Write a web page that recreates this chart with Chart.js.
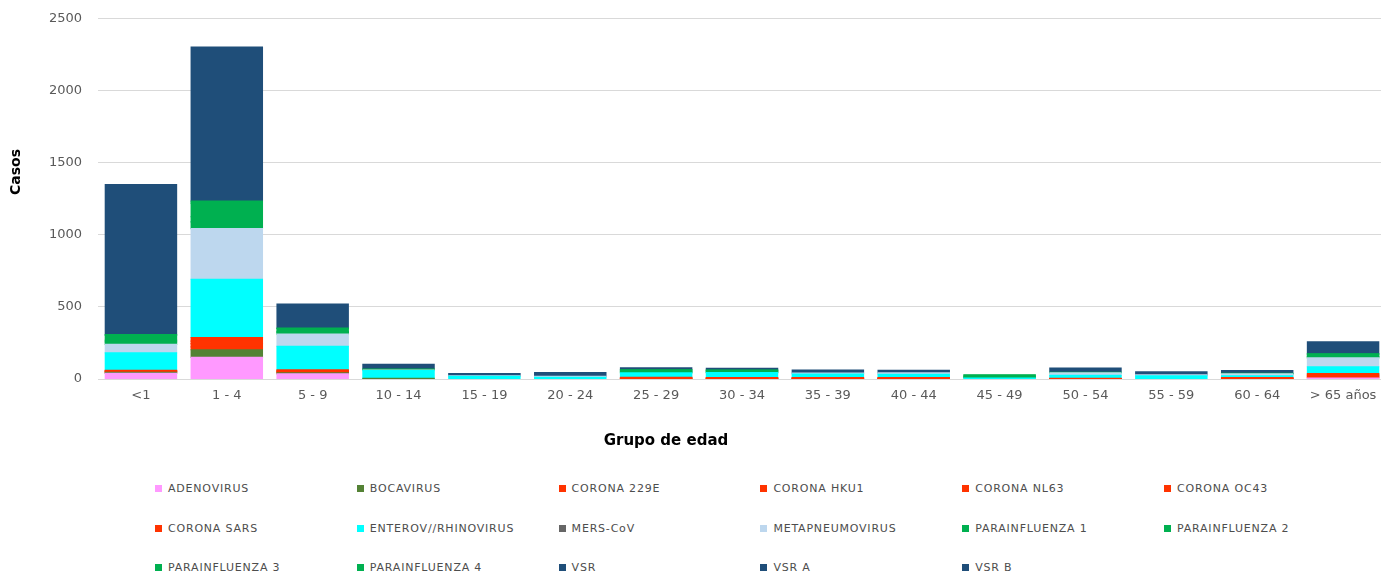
<!DOCTYPE html>
<html>
<head>
<meta charset="utf-8">
<script src="https://cdn.jsdelivr.net/npm/chart.js@4/dist/chart.umd.min.js"></script>
<style>
  body { margin: 0; overflow: hidden; background: #fff; width: 1381px; height: 573px; position: relative; font-family: "DejaVu Sans", sans-serif; }
  #wrap { position: absolute; left: 0; top: -5px; width: 1388px; height: 466px; }
  .axis-title { position: absolute; font-weight: bold; color: #000; white-space: nowrap; }
  #xtitle { left: 666px; top: 440px; transform: translate(-50%, -50%); font-size: 15px; }
  #ytitle { left: 15px; top: 172px; transform: translate(-50%, -50%) rotate(-90deg); font-size: 14px; }
  #legend { position: absolute; left: 155px; top: 469px; display: grid; grid-template-columns: repeat(6, 201.8px); grid-auto-rows: 39.5px; }
  .item { display: flex; align-items: center; font-size: 11px; letter-spacing: 0.8px; color: #4d4d4d; white-space: nowrap; }
  .box { width: 7px; height: 7px; margin-right: 6px; flex: none; }
</style>
</head>
<body>
<div id="wrap"><canvas id="myChart"></canvas></div>
<div class="axis-title" id="ytitle">Casos</div>
<div class="axis-title" id="xtitle">Grupo de edad</div>
<div id="legend"></div>
<script>
// grupos de edad
var labels = ["<1", "1 - 4", "5 - 9", "10 - 14", "15 - 19", "20 - 24", "25 - 29", "30 - 34",
  "35 - 39", "40 - 44", "45 - 49", "50 - 54", "55 - 59", "60 - 64", "> 65 años"];

// casos por virus
var adenovirus  = [39, 150, 35, 0, 0, 0, 0, 0, 0, 0, 0, 0, 0, 0, 7];
var bocavirus   = [7, 53, 7, 5, 0, 0, 0, 0, 0, 0, 0, 0, 0, 0, 0];
var corona229E  = [3, 20, 5, 0, 0, 0, 2, 2, 2, 2, 0, 1, 0, 2, 6];
var coronaHKU1  = [4, 22, 6, 0, 0, 0, 3, 2, 2, 2, 0, 1, 0, 2, 8];
var coronaNL63  = [3, 18, 4, 0, 0, 0, 3, 2, 2, 2, 0, 1, 0, 2, 7];
var coronaOC43  = [4, 25, 6, 0, 0, 0, 3, 3, 3, 3, 0, 1, 0, 3, 9];
var coronaSARS  = [0, 0, 0, 0, 0, 0, 0, 0, 0, 0, 0, 0, 0, 0, 0];
var enterov     = [122, 404, 164, 53, 18, 12, 32, 35, 25, 23, 7, 21, 21, 12, 48];
var mersCov     = [0, 0, 0, 0, 0, 0, 0, 0, 0, 0, 0, 0, 0, 0, 0];
var metapneumo  = [58, 351, 85, 3, 3, 7, 0, 0, 7, 10, 0, 18, 7, 14, 62];
var para1       = [17, 48, 10, 2, 0, 0, 5, 4, 0, 0, 5, 1, 0, 1, 7];
var para2       = [12, 35, 8, 2, 0, 0, 4, 4, 0, 0, 4, 1, 0, 1, 5];
var para3       = [34, 95, 20, 4, 0, 0, 10, 8, 0, 0, 10, 1, 0, 3, 14];
var para4       = [6, 14, 4, 0, 0, 0, 2, 2, 0, 0, 2, 0, 0, 0, 2];
var vsr         = [1041, 1068, 166, 33, 16, 25, 14, 12, 21, 18, 0, 30, 21, 18, 83];
var vsrA        = [0, 0, 0, 0, 0, 0, 0, 0, 0, 0, 0, 0, 0, 0, 0];
var vsrB        = [0, 0, 0, 0, 0, 0, 0, 0, 0, 0, 0, 0, 0, 0, 0];

var yTicks = [0, 500, 1000, 1500, 2000, 2500];

var series = [
  ["ADENOVIRUS", adenovirus, "#FF99FF"],
  ["BOCAVIRUS", bocavirus, "#548235"],
  ["CORONA 229E", corona229E, "#FF3300"],
  ["CORONA HKU1", coronaHKU1, "#FF3300"],
  ["CORONA NL63", coronaNL63, "#FF3300"],
  ["CORONA OC43", coronaOC43, "#FF3300"],
  ["CORONA SARS", coronaSARS, "#FF3300"],
  ["ENTEROV//RHINOVIRUS", enterov, "#00FFFF"],
  ["MERS-CoV", mersCov, "#666666"],
  ["METAPNEUMOVIRUS", metapneumo, "#BDD7EE"],
  ["PARAINFLUENZA 1", para1, "#00B050"],
  ["PARAINFLUENZA 2", para2, "#00B050"],
  ["PARAINFLUENZA 3", para3, "#00B050"],
  ["PARAINFLUENZA 4", para4, "#00B050"],
  ["VSR", vsr, "#1F4E79"],
  ["VSR A", vsrA, "#1F4E79"],
  ["VSR B", vsrB, "#1F4E79"],
];

var datasets = series.map(function (s) {
  return {
    label: s[0],
    data: s[1],
    backgroundColor: s[2],
    borderWidth: 0,
    // evita rayas entre segmentos del mismo color
    inflateAmount: function (c) { return c.raw ? 0.6 : 0; },
  };
});

var ctx = document.getElementById("myChart").getContext("2d");
var chart = new Chart(ctx, {
  type: "bar",
  data: { labels: labels, datasets: datasets },
  options: {
    responsive: true,
    maintainAspectRatio: false,
    animation: false,
    categoryPercentage: 1,
    barPercentage: 0.83,
    layout: { padding: { top: 0, right: 2, left: 0, bottom: 0 } },
    plugins: { legend: { display: false }, tooltip: { enabled: false } },
    scales: {
      x: {
        stacked: true,
        grid: { display: false, drawTicks: false },
        border: { color: "#d9d9d9", width: 1 },
        ticks: { color: "#595959", padding: 9, maxRotation: 0, font: { family: "DejaVu Sans", size: 13 } },
        afterFit: function (scale) { scale.height = 82; },
      },
      y: {
        stacked: true,
        min: 0,
        max: 2500,
        afterBuildTicks: function (scale) { scale.ticks = yTicks.map(function (v) { return { value: v }; }); },
        grid: { color: "#d9d9d9", drawTicks: false },
        border: { display: false },
        ticks: {
          color: "#595959",
          padding: 16,
          font: { family: "DejaVu Sans", size: 13 },
          callback: function (v) { return String(v); },
        },
        afterFit: function (scale) { scale.width = 98; },
      },
    },
  },
});

// leyenda
var legend = document.getElementById("legend");
series.forEach(function (s) {
  var item = document.createElement("div");
  item.className = "item";
  var box = document.createElement("span");
  box.className = "box";
  box.style.background = s[2];
  item.appendChild(box);
  item.appendChild(document.createTextNode(s[0]));
  legend.appendChild(item);
});
</script>
</body>
</html>
